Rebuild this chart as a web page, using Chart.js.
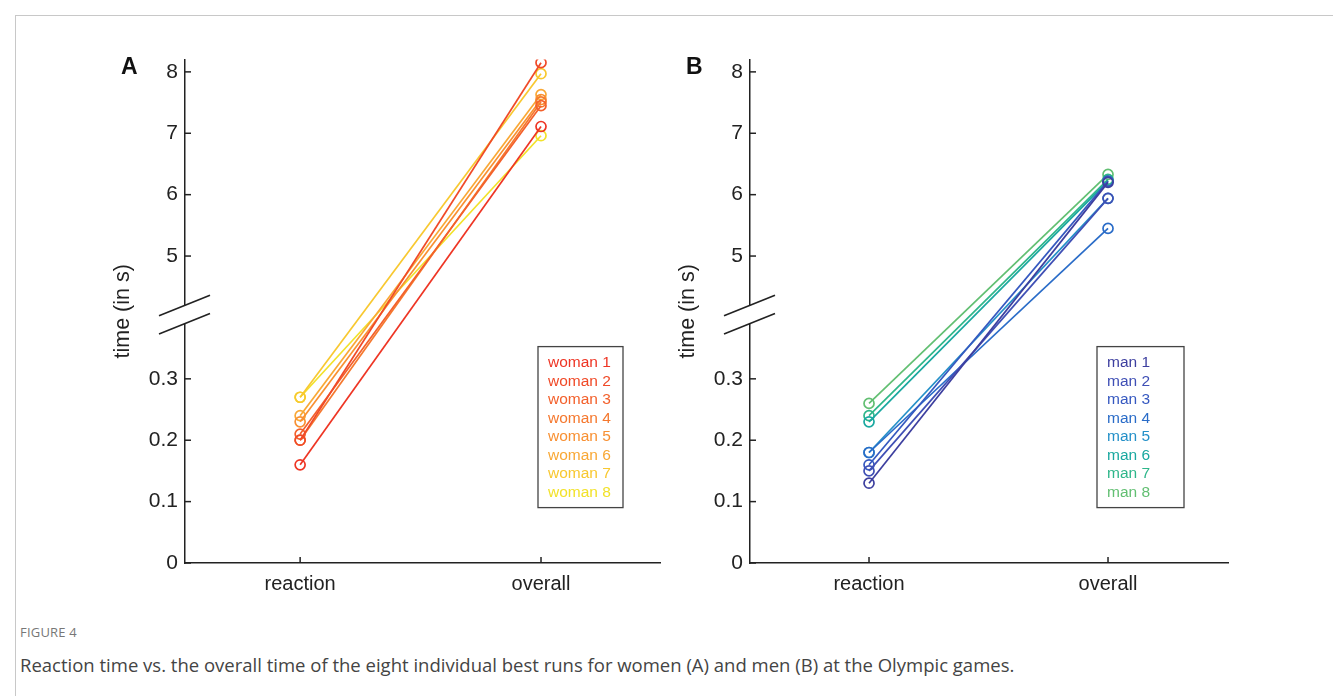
<!DOCTYPE html>
<html><head><meta charset="utf-8">
<script src="https://cdn.jsdelivr.net/npm/chart.js@4.4.1/dist/chart.umd.min.js"></script>
<style>
html,body{margin:0;padding:0;background:#fff;width:1333px;height:696px;overflow:hidden;position:relative;}
#frame{position:absolute;left:15px;top:15px;width:1340px;height:720px;border:1px solid #c8c8c8;}
.panel{position:absolute;}
#capLabel{position:absolute;left:20px;top:623px;font:13px "Open Sans";color:#777;letter-spacing:0.2px;}
#capText{position:absolute;left:20px;top:652px;font:18.5px "Open Sans";color:#444;white-space:nowrap;}
</style></head>
<body>
<div id="frame"></div>
<div class="panel" style="left:100px;top:40px;width:580px;height:580px"><canvas id="cA"></canvas></div>
<div class="panel" style="left:665px;top:40px;width:583px;height:580px"><canvas id="cB"></canvas></div>
<div id="capLabel">FIGURE 4</div>
<div id="capText">Reaction time vs. the overall time of the eight individual best runs for women (A) and men (B) at the Olympic games.</div>
<script>
// ---------- data ----------
const categories = ['reaction', 'overall'];
const womenLabels = ['woman 1','woman 2','woman 3','woman 4','woman 5','woman 6','woman 7','woman 8'];
const womenReaction = [0.16, 0.20, 0.21, 0.20, 0.23, 0.24, 0.27, 0.27];
const womenOverall  = [7.11, 8.15, 7.45, 7.51, 7.55, 7.63, 7.97, 6.96];
const womenColors = ['#ee3524','#f04a28','#f3602b','#f5782e','#f89032','#f9a835','#f8c830','#f2e22a'];
const menLabels = ['man 1','man 2','man 3','man 4','man 5','man 6','man 7','man 8'];
const menReaction = [0.13, 0.15, 0.16, 0.18, 0.18, 0.23, 0.24, 0.26];
const menOverall  = [6.20, 5.94, 6.22, 5.45, 5.94, 6.22, 6.25, 6.33];
const menColors = ['#3d3f9f','#3f4fb5','#3558c0','#2a6cc8','#2490c8','#1aa8a0','#2eb68a','#62bf72'];
const yTickPositions = [0, 1, 2, 3, 5, 6, 7, 8];
const yTickLabels = ['0', '0.1', '0.2', '0.3', '5', '6', '7', '8'];
// reaction times live on the compressed lower segment of the broken axis (x10)
const LOWER_SEGMENT_FACTOR = 10;
function toAxis(v) { return v < 1 ? v * LOWER_SEGMENT_FACTOR : v; }

Chart.defaults.font.family = '"Liberation Sans", Arial, sans-serif';
Chart.defaults.color = '#222';

function makeDatasets(labels, reaction, overall, colors) {
  return labels.map((lab, i) => ({
    label: lab,
    data: [{x: 0, y: toAxis(reaction[i])}, {x: 1, y: overall[i]}],
    borderColor: colors[i],
    pointBorderColor: colors[i],
    pointBackgroundColor: 'rgba(0,0,0,0)',
    borderWidth: 1.7,
    pointRadius: 5,
    pointBorderWidth: 1.7,
    tension: 0
  }));
}

const decor = {
  id: 'decor',
  afterDraw(chart, args, opts) {
    const ctx = chart.ctx, ca = chart.chartArea;
    const ys = chart.scales.y, xs = chart.scales.x;
    ctx.save();
    ctx.strokeStyle = '#222';
    ctx.lineWidth = 1.5;
    // inward y ticks
    yTickPositions.forEach(v => {
      const p = ys.getPixelForValue(v);
      ctx.beginPath(); ctx.moveTo(ca.left, p); ctx.lineTo(ca.left + 6, p); ctx.stroke();
    });
    // inward x ticks
    [0, 1].forEach(v => {
      const p = xs.getPixelForValue(v);
      ctx.beginPath(); ctx.moveTo(p, ca.bottom); ctx.lineTo(p, ca.bottom - 6); ctx.stroke();
    });
    // axis break
    const yU = ys.getPixelForValue(4.2), yL = ys.getPixelForValue(3.9);
    ctx.fillStyle = '#fff';
    ctx.fillRect(ca.left - 3, yU, 6, yL - yU);
    ctx.lineWidth = 1.6;
    [yU, yL].forEach(yc => {
      ctx.beginPath(); ctx.moveTo(ca.left - 26, yc + 10.5); ctx.lineTo(ca.left + 25, yc - 10); ctx.stroke();
    });
    // panel letter
    ctx.fillStyle = '#111';
    ctx.font = 'bold 23px "Liberation Sans", Arial';
    ctx.textAlign = 'left'; ctx.textBaseline = 'alphabetic';
    ctx.fillText(opts.letter, ca.left - 64, 74 - 40);
    // legend box
    const bx = ca.left + opts.lx, by = ca.top + 287, bw = opts.lw, bh = 161;
    ctx.strokeStyle = '#444'; ctx.lineWidth = 1.3;
    ctx.strokeRect(bx, by, bw, bh);
    ctx.font = '15.5px "Liberation Sans", Arial';
    ctx.textBaseline = 'middle';
    chart.data.datasets.forEach((ds, i) => {
      ctx.fillStyle = ds.borderColor;
      ctx.fillText(ds.label, bx + 10, by + 16.5 + i * 18.5);
    });
    ctx.restore();
  }
};

function makeChart(id, datasets, letter, lx, lw, xmin, xmax) {
  return new Chart(document.getElementById(id), {
    type: 'line',
    data: { datasets },
    plugins: [decor],
    options: {
      responsive: true, maintainAspectRatio: false, animation: false,
      layout: { padding: { left: 0, right: 20, top: 18, bottom: 0 } },
      plugins: { legend: { display: false }, tooltip: { enabled: false }, decor: { letter, lx, lw } },
      scales: {
        x: {
          type: 'linear', min: xmin, max: xmax,
          afterBuildTicks: s => { s.ticks = [{value: 0}, {value: 1}]; },
          afterFit: s => { s.height = 57; },
          grid: { display: false, drawTicks: false },
          border: { display: true, color: '#222', width: 1.5 },
          ticks: { padding: 9, font: { size: 20 }, color: '#222', callback: v => categories[v] }
        },
        y: {
          min: 0, max: 8.2,
          afterBuildTicks: s => { s.ticks = yTickPositions.map(v => ({value: v})); },
          afterFit: s => { s.width = 85; },
          grid: { display: false, drawTicks: false },
          border: { display: true, color: '#222', width: 1.5 },
          ticks: { padding: 7, font: { size: 21 }, color: '#222',
                   callback: v => yTickLabels[yTickPositions.indexOf(v)] },
          title: { display: true, text: 'time (in s)', font: { size: 21.5 }, color: '#222', padding: { top: 10, bottom: 0 } }
        }
      }
    }
  });
}

makeChart('cA', makeDatasets(womenLabels, womenReaction, womenOverall, womenColors), 'A', 353, 85, -0.478, 1.494);
makeChart('cB', makeDatasets(menLabels, menReaction, menOverall, menColors), 'B', 347, 87, -0.498, 1.502);
</script>
</body></html>
